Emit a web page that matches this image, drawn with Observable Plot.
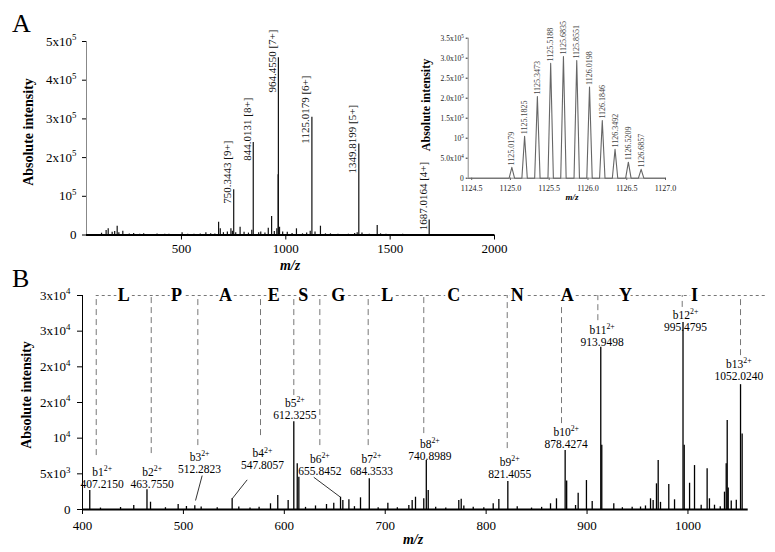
<!DOCTYPE html>
<html><head><meta charset="utf-8">
<script src="https://cdn.jsdelivr.net/npm/d3@7"></script>
<script src="https://cdn.jsdelivr.net/npm/@observablehq/plot@0.6"></script>
<style>
body{margin:0;background:#fff;}
#wrap{position:relative;width:775px;height:552px;font-family:"Liberation Serif","Times New Roman",serif;overflow:hidden;background:#fff;}
#wrap svg{position:absolute;}
.lbl{position:absolute;white-space:nowrap;color:#000;line-height:1;}
.rot{transform:translate(-50%,-50%) rotate(-90deg);}
.ctr{transform:translate(-50%,-50%);}
</style></head><body><div id="wrap"></div>
<script>
// ---------- Panel A: full MS spectrum ----------
const spectrumA = [[117,4600],[139,11600],[149,16000],[168,7200],[180,9000],[192,22700],[200,6000],[219,9800],[250,2500],[271,4000],[300,2000],[319,3500],[350,1500],[383,2500],[420,1800],[440,2000],[460,1500],[503,6000],[530,2000],[560,2000],[590,2500],[617,5600],[640,3000],[660,2500],[678,33000],[686,16000],[701,6000],[720,8000],[737,16000],[744,10000],[750.3443,117000],[760,6000],[781,20000],[800,7000],[821,5000],[837,12000],[844.0131,239000],[870,6000],[880,8000],[900,5000],[916,17500],[932,47700],[945,9000],[957,16000],[963.3,156000],[964.4550,458000],[970,20000],[985,8000],[1007,7000],[1030,4000],[1051,16000],[1080,3000],[1100,5000],[1117,10000],[1125.0179,304000],[1140,8000],[1166,22700],[1190,3000],[1214,3000],[1250,2000],[1300,2000],[1330,4000],[1342,6000],[1349.8199,235000],[1365,5000],[1400,2000],[1438,24500],[1454,3000],[1480,2000],[1560,2000],[1620,1500],[1687.0164,39000],[1700,1500],[1800,1000]];
const chargeLabelMz = [750.3443, 844.0131, 964.4550, 1125.0179, 1349.8199, 1687.0164];
const chargeLabelText = ["750.3443 [9+]", "844.0131 [8+]", "964.4550 [7+]", "1125.0179 [6+]", "1349.8199 [5+]", "1687.0164 [4+]"];
const chargeLabelStart = [81000, 192000, 368000, 236000, 159000, 12000];
const aXDomain = [45, 2000];
const aXTicks = [500, 1000, 1500, 2000];
const aYTicks = [0, 1e5, 2e5, 3e5, 4e5, 5e5];
const aYTickLabels = ["0", "10^{5}", "2x10^{5}", "3x10^{5}", "4x10^{5}", "5x10^{5}"];

// ---------- Inset: isotope cluster of [6+] ----------
const isoMz = [1125.0179,1125.1825,1125.3473,1125.5188,1125.6835,1125.8551,1126.0198,1126.1846,1126.3492,1126.5209,1126.6857];
const isoInt = [27000,105000,204000,287000,304000,294000,228000,144000,72000,40000,22000];
const isoXDomain = [1124.455, 1127.0];
const isoXTicks = [1124.5, 1125.0, 1125.5, 1126.0, 1126.5, 1127.0];
const isoYTicks = [0, 5e4, 1e5, 1.5e5, 2e5, 2.5e5, 3e5, 3.5e5];
const isoYTickLabels = ["0", "5.0x10^{4}", "10^{5}", "1.5x10^{5}", "2.0x10^{5}", "2.5x10^{5}", "3.0x10^{5}", "3.5x10^{5}"];

// ---------- Panel B: MS/MS spectrum ----------
const spectrumB = [[407.2,2660],[417.8,200],[437.7,280],[450.8,560],[463.9,2760],[467.4,1020],[482.2,250],[494.8,700],[503,420],[511.3,520],[517.6,350],[533.5,250],[548.3,1500],[554.9,350],[566,200],[575,300],[586.3,800],[593.5,1960],[603.8,1260],[609.4,12300],[612.8,6400],[614.4,4520],[621,300],[630.9,500],[641.8,700],[649,880],[655.7,1720],[658,1260],[664,1360],[669.5,400],[675.5,1640],[684.2,4300],[693,250],[702.6,880],[712,250],[723.4,560],[726.7,1260],[730,1720],[738.2,1500],[740.7,6860],[742.6,2660],[750,300],[760,200],[772.9,1260],[775.3,1440],[777.9,500],[787.2,300],[797.7,250],[807,800],[812.6,1400],[821.5,3920],[830.8,400],[845,200],[855,300],[863.8,800],[869.7,1500],[878.3,8260],[879.8,4000],[888.6,560],[891.2,2280],[899.4,4060],[905.1,1120],[913.6,22730],[914.6,9000],[926.5,800],[935,250],[944.7,300],[953,350],[957.9,500],[962.9,1500],[965.5,1260],[968.8,3600],[970.5,6860],[972.8,1000],[981,3500],[986.7,1360],[995.1,26200],[996.3,9000],[1001.6,3680],[1006.5,6160],[1013.1,600],[1019,5700],[1021.3,1500],[1026.3,600],[1032,400],[1036.2,2430],[1037.9,6400],[1038.9,12460],[1039.9,3000],[1042.9,1200],[1047.9,1300],[1052.1,17500],[1053.7,10600]];
const bXDomain = [400, 1059.7];
const bXTicks = [400, 500, 600, 700, 800, 900, 1000];
const bYTicks = [0, 5000, 10000, 15000, 20000, 25000, 30000];
const bYTickLabels = ["0", "5x10^{3}", "10^{4}", "2x10^{4}", "2x10^{4}", "3x10^{4}", "3x10^{4}"];
const ionNames = ["b1","b2","b3","b4","b5","b6","b7","b8","b9","b10","b11","b12","b13"];
const ionValues = ["407.2150","463.7550","512.2823","547.8057","612.3255","655.8452","684.3533","740.8989","821.4055","878.4274","913.9498","995.4795","1052.0240"];
const ionLabelMz = [419.5,469,516,578.4,610.4,635.2,686.4,744.2,823.4,879.3,915,997.6,1050.4];
const ionLabelInt = [5220,5220,7320,7840,14940,7100,7100,9200,6620,10830,25170,27270,20410];
const seqLineMz = [413.6,468.1,514.3,576.4,609.4,635.2,683.1,738.2,820.9,874.7,910.7,994.3,1052.1];
const seqLineBottom = [7560,7840,8960,10360,15970,8960,8960,10640,8540,12040,26470,28330,21570];
const seqTop = 30000;
const seqLineEnd = 1078.8;
const residues = ["L","P","A","E","S","G","L","C","N","A","Y","I"];
const residueMz = [440.9,493.2,541.7,589.6,618.7,653.4,702,768,830.8,880.3,938.1,1006.5];
const leaderX1 = [518.6, 563.2, 629.2];
const leaderY1 = [4760, 4160, 4520];
const leaderX2 = [512, 548.3, 655.7];
const leaderY2 = [1260, 1500, 1720];

const FONT = '"Liberation Serif","Times New Roman",serif';
const wrap = document.getElementById("wrap");

function supify(root) {
  root.querySelectorAll("text, tspan").forEach(el => {
    for (const node of Array.from(el.childNodes)) {
      if (node.nodeType !== 3) continue;
      const m = node.nodeValue.match(/^(.*?)\^\{(.+?)\}$/);
      if (!m) continue;
      node.nodeValue = m[1];
      const t = document.createElementNS("http://www.w3.org/2000/svg", "tspan");
      t.setAttribute("dy", "-0.6em");
      t.setAttribute("font-size", "68%");
      t.textContent = m[2];
      el.insertBefore(t, node.nextSibling);
    }
  });
}
function place(svg, left, top) {
  svg.style.left = left + "px";
  svg.style.top = top + "px";
  supify(svg);
  wrap.appendChild(svg);
}
function label(text, x, y, size, cls, extra) {
  const d = document.createElement("div");
  d.className = "lbl " + cls;
  d.style.left = x + "px";
  d.style.top = y + "px";
  d.style.fontSize = size + "px";
  d.style.cssText += extra || "";
  d.textContent = text;
  wrap.appendChild(d);
  return d;
}

// Panel A main
const specA = spectrumA.map(([mz, i]) => ({mz, i}));
const chargeLabels = chargeLabelMz.map((mz, k) => ({mz, y: chargeLabelStart[k], t: chargeLabelText[k]}));
const plotA = Plot.plot({
  width: 500, height: 275,
  marginLeft: 86, marginRight: 6, marginTop: 41, marginBottom: 40.5,
  style: {fontFamily: FONT, fontSize: "13px", background: "transparent", overflow: "visible", color: "#000"},
  x: {domain: aXDomain, ticks: aXTicks, tickFormat: d => String(d), tickSize: 5, tickPadding: 4, label: null},
  y: {domain: [0, 5e5], ticks: aYTicks, tickFormat: d => aYTickLabels[aYTicks.indexOf(d)], tickSize: 4, tickPadding: 6, label: null},
  marks: [
    Plot.ruleX([aXDomain[0]], {stroke: "#888", strokeWidth: 1}),
    Plot.ruleX(specA, {x: "mz", y1: 0, y2: "i", stroke: "#111", strokeWidth: 1.2}),
    Plot.ruleY([0], {stroke: "#000", strokeWidth: 2}),
    Plot.text(chargeLabels, {x: "mz", y: "y", text: "t", rotate: -90, textAnchor: "start", lineAnchor: "middle", dx: -6, fontSize: 11, fill: "#111"})
  ]
});
place(plotA, 0, 0);

// Inset
const isoProfile = [{x: isoXDomain[0], y: 0}];
isoMz.forEach((mz, k) => {
  isoProfile.push({x: mz - 0.035, y: 0}, {x: mz, y: isoInt[k]}, {x: mz + 0.035, y: 0});
});
isoProfile.push({x: isoXDomain[1], y: 0});
const isoLabels = isoMz.map((mz, k) => ({mz, y: isoInt[k], t: mz.toFixed(4)}));
const plotInset = Plot.plot({
  width: 300, height: 190,
  marginLeft: 87.7, marginRight: 15, marginTop: 17.7, marginBottom: 32.3,
  style: {fontFamily: FONT, fontSize: "8px", background: "transparent", overflow: "visible", color: "#222"},
  x: {domain: isoXDomain, ticks: isoXTicks, tickFormat: d => d.toFixed(1), tickSize: 2, tickPadding: 5, label: null},
  y: {domain: [0, 3.5e5], ticks: isoYTicks, tickFormat: d => isoYTickLabels[isoYTicks.indexOf(d)], tickSize: 2, tickPadding: 2.5, label: null},
  marks: [
    Plot.ruleX([isoXDomain[0]], {stroke: "#888"}),
    Plot.ruleY([0], {stroke: "#888"}),
    Plot.line(isoProfile, {x: "x", y: "y", stroke: "#666", strokeWidth: 1.1}),
    Plot.text(isoLabels, {x: "mz", y: "y", text: "t", rotate: -90, textAnchor: "start", dy: -2, fontSize: 8, fill: "#444"})
  ]
});
plotInset.querySelectorAll('[aria-label="y-axis tick label"] text, [aria-label="y-axis tick label"]').forEach(e => e.setAttribute("font-size", "7.5"));
place(plotInset, 380, 20);

// Panel B
const specB = spectrumB.map(([mz, i]) => ({mz, i}));
const seqLines = seqLineMz.map((mz, k) => ({mz, b: seqLineBottom[k]}));
const seqLetters = residues.map((r, k) => ({r, mz: residueMz[k]}));
const ionLabels = ionNames.map((n, k) => ({name: n + "^{2+}", val: ionValues[k], mz: ionLabelMz[k], y: ionLabelInt[k]}));
const leaders = leaderX1.map((x1, k) => ({x1, y1: leaderY1[k], x2: leaderX2[k], y2: leaderY2[k]}));
const plotB = Plot.plot({
  width: 775, height: 282,
  marginLeft: 82, marginRight: 27.3, marginTop: 25, marginBottom: 43,
  style: {fontFamily: FONT, fontSize: "13px", background: "transparent", overflow: "visible", color: "#000"},
  x: {domain: bXDomain, ticks: bXTicks, tickFormat: d => String(d), tickSize: 5, tickPadding: 6, label: null},
  y: {domain: [0, 30000], ticks: bYTicks, tickFormat: d => bYTickLabels[bYTicks.indexOf(d)], tickSize: 5, tickPadding: 7, label: null},
  marks: [
    Plot.ruleX(seqLines, {x: "mz", y1: "b", y2: seqTop, stroke: "#777", strokeWidth: 1, strokeDasharray: "6,4"}),
    Plot.ruleY([seqTop], {x1: seqLineMz[0], x2: seqLineEnd, stroke: "#777", strokeWidth: 1, strokeDasharray: "3,3"}),
    Plot.text(seqLetters, {x: "mz", y: seqTop, text: "r", fontSize: 18, fontWeight: "bold", fill: "#000", stroke: "white", strokeWidth: 6}),
    Plot.ruleX([bXDomain[0]], {stroke: "#000", strokeWidth: 1}),
    Plot.ruleX(specB, {x: "mz", y1: 0, y2: "i", stroke: "#000", strokeWidth: 1.3}),
    Plot.ruleY([0], {stroke: "#000", strokeWidth: 2}),
    Plot.link(leaders, {x1: "x1", y1: "y1", x2: "x2", y2: "y2", stroke: "#000", strokeWidth: 0.8}),
    Plot.text(ionLabels, {x: "mz", y: "y", text: "name", fontSize: 11.5, fill: "#000"}),
    Plot.text(ionLabels, {x: "mz", y: "y", text: "val", dy: 12, fontSize: 11.5, fill: "#000"})
  ]
});
place(plotB, 0, 270);

// Titles and axis labels (HTML text)
label("A", 12, 11, 26, "", "");
label("B", 12, 266, 26, "", "");
label("Absolute intensity", 29, 132, 14, "rot", "font-weight:bold;");
label("m/z", 290, 266, 14, "ctr", "font-weight:bold;font-style:italic;");
label("Absolute intensity", 426, 105, 12, "rot", "font-weight:bold;");
label("m/z", 572, 197, 9, "ctr", "font-weight:bold;font-style:italic;");
label("Absolute intensity", 27, 395, 14, "rot", "font-weight:bold;");
label("m/z", 413, 540, 14, "ctr", "font-weight:bold;font-style:italic;");
</script></body></html>
